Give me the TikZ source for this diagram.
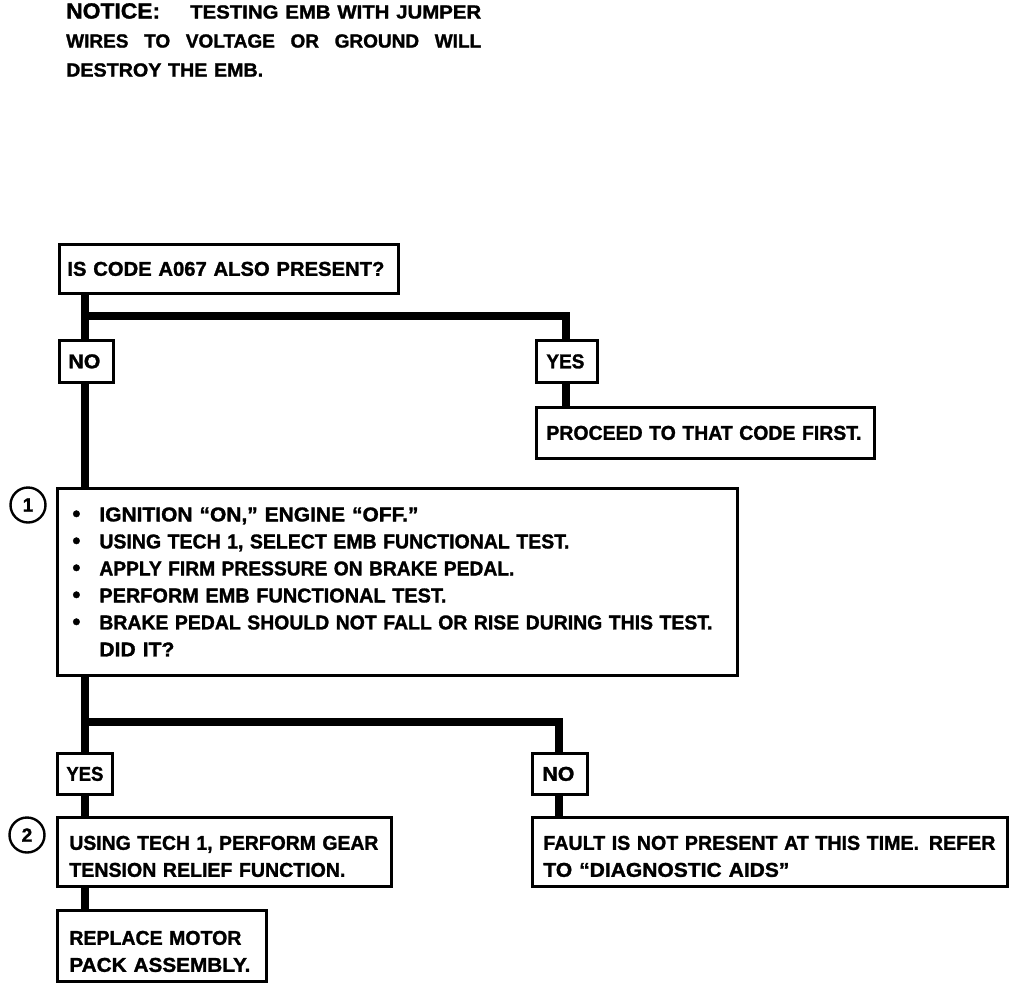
\documentclass[tikz,border=0pt]{standalone}
\usepackage{fontspec}
\usepackage{graphicx}
\setmainfont{Liberation Sans}[BoldFeatures={FakeBold=1.4}]
\newcommand\fitw[2]{\resizebox{#1}{\height}{#2}}
\begin{document}
\begin{tikzpicture}[x=1pt,y=-1pt,
  box/.style={draw, fill=white, line width=2.8pt, anchor=north west, inner xsep=9pt, inner ysep=0pt, align=left,
    font=\bfseries\fontsize{20}{27}\selectfont},
  conn/.style={line width=8pt},
  num/.style={draw, circle, line width=2.4pt, minimum size=35pt, inner sep=0pt, fill=white,
    font=\bfseries\fontsize{19}{20}\selectfont},
  notice/.style={anchor=north west, inner sep=0pt, align=left, font=\bfseries\fontsize{19}{29}\selectfont}]
\useasboundingbox[fill=white] (0,0) rectangle (1024,982);

\node[notice, text width=415pt] (notice) at (66,3) {%
  \makebox[415pt][s]{\fitw{94pt}{\fontsize{22}{22}\selectfont NOTICE:}\hfill\fitw{291pt}{TESTING EMB WITH JUMPER}}\\
  \makebox[415pt][s]{WIRES\hfill TO\hfill VOLTAGE\hfill OR\hfill GROUND\hfill WILL}\\
  \fitw{197pt}{DESTROY THE EMB.}};

% connectors
\coordinate (j1) at (85,316);
\coordinate (j2) at (85,722);
\draw[conn] (85,292) -- (85,339);
\draw[conn] (j1) -| (565.5,339);
\draw[conn] (565.5,381) -- (565.5,406);
\draw[conn] (85,381) -- (85,487);
\draw[conn] (85,674) -- (85,752);
\draw[conn] (j2) -| (558.5,752);
\draw[conn] (85,793) -- (85,816);
\draw[conn] (558.5,793) -- (558.5,816);
\draw[conn] (85,885) -- (85,909);

% boxes
\node[box, minimum width=339pt, minimum height=49pt, text width=323pt, inner xsep=8pt] (A) at (58,243) {\fitw{317pt}{IS CODE A067 ALSO PRESENT?}};
\node[box, minimum width=54pt, minimum height=42pt, text width=36pt, inner xsep=9pt] (NO1) at (58,339) {\fitw{32pt}{NO}};
\node[box, minimum width=61pt, minimum height=42pt, text width=41pt, inner xsep=10pt] (YES1) at (535,339) {\fitw{38pt}{YES}};
\node[box, minimum width=338pt, minimum height=51pt, text width=318pt, inner xsep=10pt] (P) at (535,406) {\fitw{315pt}{PROCEED TO THAT CODE FIRST.}};
\node[box, minimum width=680pt, minimum height=187pt, text width=650pt, inner xsep=15pt] (Big) at (56,487) {%
  \makebox[27pt][l]{\scalebox{1.15}{•}}\fitw{319pt}{IGNITION “ON,” ENGINE “OFF.”}\\
  \makebox[27pt][l]{\scalebox{1.15}{•}}\fitw{470pt}{USING TECH 1, SELECT EMB FUNCTIONAL TEST.}\\
  \makebox[27pt][l]{\scalebox{1.15}{•}}\fitw{415pt}{APPLY FIRM PRESSURE ON BRAKE PEDAL.}\\
  \makebox[27pt][l]{\scalebox{1.15}{•}}\fitw{347pt}{PERFORM EMB FUNCTIONAL TEST.}\\
  \makebox[27pt][l]{\scalebox{1.15}{•}}\fitw{613pt}{BRAKE PEDAL SHOULD NOT FALL OR RISE DURING THIS TEST.}\\
  \hspace*{27pt}\fitw{75pt}{DID IT?}};
\node[box, minimum width=55pt, minimum height=41pt, text width=37pt, inner xsep=9pt] (YES2) at (56,752) {\fitw{37pt}{YES}};
\node[box, minimum width=55pt, minimum height=41pt, text width=35pt, inner xsep=10pt] (NO2) at (531,752) {\fitw{32pt}{NO}};
\node[box, minimum width=334pt, minimum height=69pt, text width=310pt, inner xsep=12pt] (B2) at (56,816) {\rule{0pt}{23pt}\fitw{309pt}{USING TECH 1, PERFORM GEAR}\\\fitw{276pt}{TENSION RELIEF FUNCTION.}};
\node[box, minimum width=475pt, minimum height=69pt, text width=453pt, inner xsep=11pt] (F) at (531,816) {\rule{0pt}{23pt}\fitw{452pt}{FAULT IS NOT PRESENT AT THIS TIME.\enspace REFER}\\\fitw{246pt}{TO “DIAGNOSTIC AIDS”}};
\node[box, minimum width=209pt, minimum height=71pt, text width=185pt, inner xsep=12pt] (R) at (56,909) {\rule{0pt}{25pt}\fitw{172pt}{REPLACE MOTOR}\\\fitw{181pt}{PACK ASSEMBLY.}};

\node[num] (c1) at (28,505) {1};
\node[num] (c2) at (27,835) {2};
\end{tikzpicture}
\end{document}
